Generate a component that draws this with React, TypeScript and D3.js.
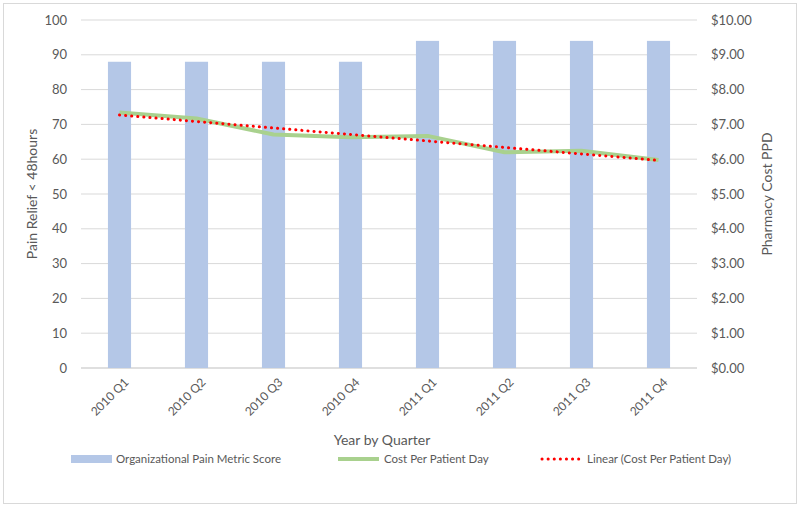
import * as d3 from "d3"

const quarters = ["2010 Q1", "2010 Q2", "2010 Q3", "2010 Q4", "2011 Q1", "2011 Q2", "2011 Q3", "2011 Q4"]
const painScore = [88, 88, 88, 88, 94, 94, 94, 94]
const costPerDay = [7.34, 7.17, 6.71, 6.63, 6.67, 6.2, 6.24, 5.98]
const leftTicks = [0, 10, 20, 30, 40, 50, 60, 70, 80, 90, 100]
const rightTicks = [0, 1, 2, 3, 4, 5, 6, 7, 8, 9, 10]

const W = 800
const H = 507
const FONT = "Lato, 'Open Sans', sans-serif"
const GREY = "#595959"

export default function App() {
    const margin = { left: 81, right: 103, top: 20, bottom: 139 }
    const plotW = W - margin.left - margin.right
    const plotH = H - margin.top - margin.bottom

    const x = d3.scaleBand().domain(quarters).range([margin.left, margin.left + plotW]).paddingInner(0.7).paddingOuter(0.35)
    const yL = d3.scaleLinear().domain([0, 100]).range([margin.top + plotH, margin.top])
    const yR = d3.scaleLinear().domain([0, 10]).range([margin.top + plotH, margin.top])
    const cx = (q: string) => (x(q) as number) + x.bandwidth() / 2

    // excel style linear trendline (least squares on index)
    const idx = costPerDay.map((_, i) => i + 1)
    const mx = d3.mean(idx) as number
    const my = d3.mean(costPerDay) as number
    const slope = d3.sum(idx, (v, i) => (v - mx) * (costPerDay[i] - my)) / d3.sum(idx, v => (v - mx) ** 2)
    const trend = idx.map(v => my + slope * (v - mx))

    const line = d3.line<number>().x((_, i) => cx(quarters[i])).y(d => yR(d)).curve(d3.curveLinear)
    const fmt = d3.format("$.2f")

    return (
        <div>
            <style>{`body{margin:0}`}</style>
            <svg width={W} height={H} style={{ display: "block", fontFamily: FONT }}>
                <rect x={0} y={0} width={W} height={H} fill="#fff" />
                <rect x={3.5} y={3.5} width={W - 7} height={H - 7} fill="none" stroke="#d9d9d9" />

                {leftTicks.map(t => (
                    <line key={t} x1={margin.left} x2={margin.left + plotW} y1={yL(t)} y2={yL(t)}
                        stroke={t === 0 ? "#bfbfbf" : "#d9d9d9"} strokeWidth={1} />
                ))}

                {quarters.map((q, i) => (
                    <rect key={q} x={x(q)} y={yL(painScore[i])} width={x.bandwidth()}
                        height={yL(0) - yL(painScore[i])} fill="#b4c7e7" />
                ))}

                <path d={line(costPerDay) || ""} fill="none" stroke="#a9d18e" strokeWidth={4} strokeLinejoin="round" />
                <path d={line(trend) || ""} fill="none" stroke="#ff0000" strokeWidth={3}
                    strokeDasharray="0.1 6" strokeLinecap="round" />

                {leftTicks.map(t => (
                    <text key={t} x={67} y={yL(t)} dy="0.35em" textAnchor="end" fontSize={13} fill={GREY}>{t}</text>
                ))}
                {rightTicks.map(t => (
                    <text key={t} x={711} y={yR(t)} dy="0.35em" textAnchor="start" fontSize={13} fill={GREY}>{fmt(t)}</text>
                ))}

                {quarters.map(q => (
                    <text key={q} transform={`translate(${cx(q) + 7},${yL(0) + 12}) rotate(-45)`}
                        textAnchor="end" dy="0.35em" fontSize={12} fill={GREY}>{q}</text>
                ))}

                <text transform={`translate(37,${margin.top + plotH / 2}) rotate(-90)`} textAnchor="middle"
                    fontSize={14} fill={GREY}>Pain Relief &lt; 48hours</text>
                <text transform={`translate(772,${margin.top + plotH / 2}) rotate(-90)`} textAnchor="middle"
                    fontSize={14} fill={GREY}>Pharmacy Cost PPD</text>
                <text x={382} y={445} textAnchor="middle" fontSize={14} fill={GREY}>Year by Quarter</text>

                <g fontSize={11.5} fill={GREY}>
                    <rect x={71} y={455} width={41} height={8} fill="#b4c7e7" />
                    <text x={116} y={459} dy="0.35em">Organizational Pain Metric Score</text>
                    <line x1={338} x2={379} y1={459} y2={459} stroke="#a9d18e" strokeWidth={4} />
                    <text x={384} y={459} dy="0.35em">Cost Per Patient Day</text>
                    <line x1={542} x2={582} y1={459} y2={459} stroke="#ff0000" strokeWidth={3}
                        strokeDasharray="0.1 6" strokeLinecap="round" />
                    <text x={587} y={459} dy="0.35em">Linear (Cost Per Patient Day)</text>
                </g>
            </svg>
        </div>
    )
}
